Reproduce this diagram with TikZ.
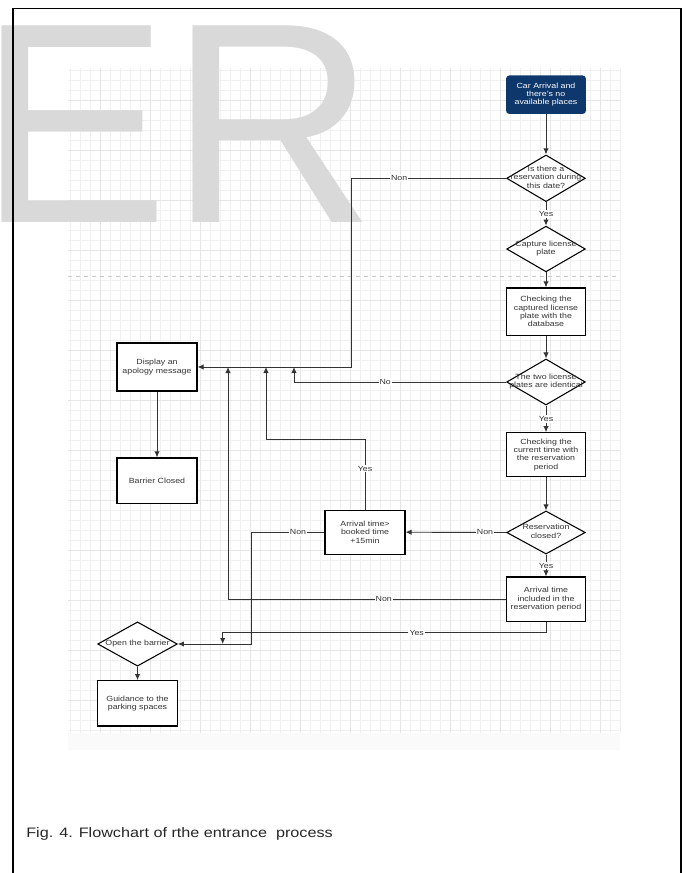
\documentclass[tikz,border=0pt]{standalone}
\usepackage{fontspec}
\setmainfont{Liberation Sans}[FakeStretch=1.18]
\newfontfamily\markfont{Liberation Sans}
\usetikzlibrary{arrows.meta,shapes.geometric}

\definecolor{navy}{RGB}{14,55,108}
\definecolor{ink}{RGB}{51,51,51}
\newcommand{\dtxt}[1]{\smash{\makebox[0pt]{\raisebox{-1.4pt}{\begin{tabular}{@{}c@{}}#1\end{tabular}}}}}

\tikzset{
  chart/.style={font=\fontsize{5.6}{6.25}\selectfont, text=ink},
  procbox/.style={chart, draw=black, line width=0.8pt, fill=white, minimum width=59pt, minimum height=34pt, align=center, inner sep=1pt},
  startbox/.style={procbox, draw=navy, fill=navy, text=white, rounded corners=2pt},
  decision/.style={chart, diamond, draw=black, line width=0.8pt, fill=white, minimum width=59pt, minimum height=35pt, inner sep=0pt},
  flow/.style={draw=ink, line width=0.7pt, -{Latex[length=4.5pt,width=4pt]}},
  lbl/.style={chart, fill=white, inner sep=0.8pt}
}

\begin{document}
\begin{tikzpicture}[x=0.75pt,y=-0.75pt]
   \useasboundingbox (0,0) rectangle (685,873);
   % background grid
   \fill[black!2] (68,733) rectangle (620,750);
   \draw[black!6,line width=0.3pt,xstep=7.5pt,ystep=7.5pt] (68,733) grid (620,68);
   \draw[black!10,line width=0.4pt,xstep=37.5pt,ystep=37.5pt] (68,733) grid (620,68);
   \draw[black!22,dashed,line width=0.4pt] (68,276.7) -- (620,276.7);
   \node[anchor=base west,inner sep=0pt,text=black!15,font=\markfont\fontsize{214.5}{214.5}\selectfont] (mark) at (-22,223) {ER};
   \draw[line width=1.1pt] (13,880) -- (13,8.5) -- (681,8.5) -- (681,880);

   % right column
   \node[startbox, minimum height=28pt] (arrive) at (546,94.7) {Car Arrival and\\there's no\\available places};
   \node[decision] (resv) at (546,178.3) {\dtxt{Is there a\\reservation during\\this date?}};
   \node[decision, minimum height=34.3pt] (plate) at (546,249) {\dtxt{Capture license\\plate}};
   \node[procbox, minimum height=35.3pt] (check) at (546,311.5) {Checking the\\captured license\\plate with the\\database};
   \node[decision, minimum height=34.5pt] (same) at (546,382) {\dtxt{The two license\\plates are identical}};
   \node[procbox, minimum height=33pt] (period) at (546,454.7) {Checking the\\current time with\\the reservation\\period};
   \node[decision, minimum height=32.3pt] (closed) at (546,532.5) {\dtxt{Reservation\\closed?}};
   \node[procbox, minimum height=33.5pt] (inside) at (546,599.3) {Arrival time\\included in the\\reservation period};
   \node[procbox, minimum width=60pt, minimum height=33.2pt] (late) at (365,532.2) {Arrival time>\\booked time\\+15min};

   % left column
   \node[procbox, minimum width=60pt, minimum height=36pt] (sorry) at (157,367) {Display an\\apology message};
   \node[procbox, minimum width=60pt, minimum height=33.8pt] (shut) at (157,480.5) {Barrier Closed};
   \node[decision, minimum width=59.7pt, minimum height=33.2pt] (open) at (137.5,644) {\dtxt{Open the barrier}};
   \node[procbox, minimum width=59.7pt, minimum height=34pt] (guide) at (137.5,703.3) {Guidance to the\\parking spaces};

   \coordinate (j1) at (351,367);
   \coordinate (j2) at (294,367);
   \coordinate (j3) at (266,367);
   \coordinate (j4) at (228,367);
   \coordinate (j5) at (222.7,644);
   \coordinate (k3) at (266,439.3);
   \coordinate (k4) at (251,644);
   \coordinate (k5) at (222.7,632.7);

   \draw[flow] (arrive) -- (resv);
   \draw[flow] (resv) -- node[lbl]{Yes} (plate);
   \draw[flow] (plate) -- (check);
   \draw[flow] (check) -- (same);
   \draw[flow] (same) -- node[lbl]{Yes} (period);
   \draw[flow] (period) -- (closed);
   \draw[flow] (closed) -- node[lbl]{Yes} (inside);
   \draw[flow] (resv.west) -| node[lbl,pos=0.345]{Non} (j1) -- (sorry.east);
   \draw[flow] (same.west) -| node[lbl,pos=0.285]{No} (j2);
   \draw[flow] (closed.west) -- node[lbl,pos=0.21]{Non} (late.east);
   \draw[flow] (late.north) |- node[lbl,pos=0.29]{Yes} (k3) -- (j3);
   \draw[flow] (late.west) -| node[lbl,pos=0.18]{Non} (k4) -- (open.east);
   \draw[flow] (inside.west) -| node[lbl,pos=0.22]{Non} (j4);
   \draw[flow] (inside.south) |- node[lbl,pos=0.7]{Yes} (k5) -- (j5);
   \draw[flow] (sorry) -- (shut);
   \draw[flow] (open) -- (guide);

   \node[anchor=base west,inner sep=0pt,font=\fontsize{10.3}{12}\selectfont,text=black!85] (caption) at (26,837) {Fig. 4. Flowchart of rthe entrance~ process};
\end{tikzpicture}
\end{document}
